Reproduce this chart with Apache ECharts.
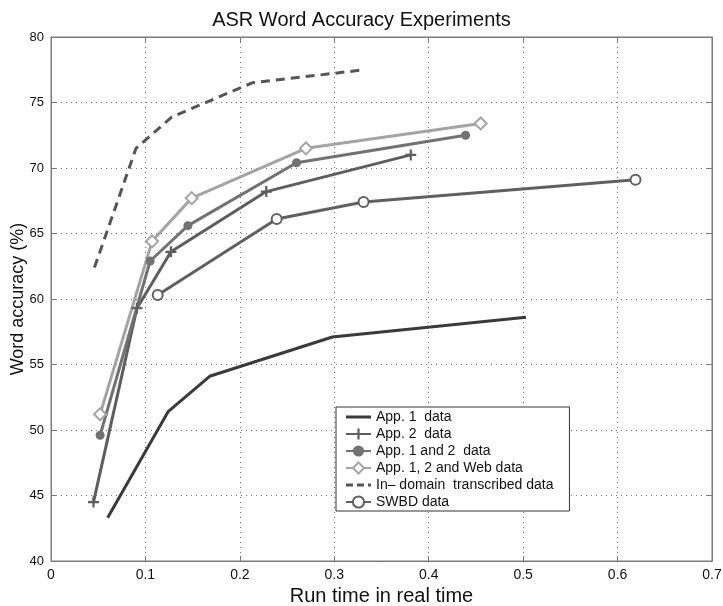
<!DOCTYPE html>
<html><head><meta charset="utf-8">
<script src="https://cdn.jsdelivr.net/npm/echarts@6/dist/echarts.min.js"></script>
<style>html,body{margin:0;padding:0;background:#fff}#c{width:723px;height:606px}</style>
</head><body><div id="c"></div>
<script>
const xTicks = [0, 0.1, 0.2, 0.3, 0.4, 0.5, 0.6, 0.7];
const yTicks = [40, 45, 50, 55, 60, 65, 70, 75, 80];

const app1X = [0.060, 0.124, 0.168, 0.298, 0.503];
const app1Y = [43.3, 51.4, 54.1, 57.1, 58.6];

const app2X = [0.045, 0.091, 0.127, 0.228, 0.381];
const app2Y = [44.5, 59.3, 63.6, 68.2, 71.0];

const app12X = [0.052, 0.105, 0.145, 0.260, 0.439];
const app12Y = [49.6, 62.9, 65.6, 70.4, 72.5];

const webX = [0.052, 0.107, 0.149, 0.270, 0.455];
const webY = [51.2, 64.4, 67.7, 71.5, 73.4];

const inDomX = [0.046, 0.090, 0.128, 0.213, 0.332];
const inDomY = [62.4, 71.5, 73.9, 76.5, 77.5];

const swbdX = [0.113, 0.239, 0.331, 0.619];
const swbdY = [60.3, 66.1, 67.4, 69.1];

const names = ['App. 1  data', 'App. 2  data', 'App. 1 and 2  data', 'App. 1, 2 and Web data', 'In\u2013 domain  transcribed data', 'SWBD data'];

function pairs(xs, ys){ return xs.map((x,i)=>[x, ys[i]]); }

const plusPath = 'path://M4,0h2v4h4v2h-4v4h-2v-4h-4v-2h4z';
const solidIcon = 'path://M0,0h0.01v0.01h-0.01z M0,5.5h25v3h-25z M0,13.99h0.01v0.01h-0.01z';
const dashIcon = 'path://M0,0h0.01v0.01h-0.01z M0,5.5h7v3h-7z M11,5.5h7v3h-7z M22,5.5h3v3h-3z M0,13.99h0.01v0.01h-0.01z';
const font = 'Liberation Sans, Arial, sans-serif';
const fmt = ticks => v => { const t = ticks.find(t => Math.abs(t - v) < 1e-9); return t === undefined ? '' : String(t); };
const frameColor = '#7a7a7a';

const chart = echarts.init(document.getElementById('c'), null, {renderer:'canvas'});
chart.setOption({
  animation: false,
  backgroundColor: '#fff',
  title: {
    text: 'ASR Word Accuracy Experiments',
    left: 'center', top: 5,
    textStyle: {fontFamily: font, fontSize: 20, fontWeight: 'normal', color: '#111'}
  },
  grid: {left: 51, right: 11, top: 37, bottom: 45, outerBoundsMode: 'none', containLabel: false,
    show: true, borderColor: frameColor, borderWidth: 1},
  legend: {
    orient: 'vertical', left: 336, top: 407,
    backgroundColor: '#fff', borderColor: '#333', borderWidth: 1,
    padding: [3, 16, 2, 9], itemGap: 3, itemWidth: 25, itemHeight: 14,
    textStyle: {fontFamily: font, fontSize: 14, color: '#111'},
    data: [
      {name: names[0], icon: solidIcon},
      {name: names[1]},
      {name: names[2]},
      {name: names[3]},
      {name: names[4], icon: dashIcon},
      {name: names[5]}
    ]
  },
  xAxis: [{
    type: 'value', min: 0, max: 0.7, interval: 0.1,
    name: 'Run time in real time', nameLocation: 'middle', nameGap: 25, nameMoveOverlap: false,
    nameTextStyle: {fontFamily: font, fontSize: 20, color: '#111'},
    axisLine: {show: true, onZero: false, lineStyle: {color: frameColor}},
    axisTick: {show: true, inside: true, length: 5, lineStyle: {color: frameColor}},
    axisLabel: {fontFamily: font, fontSize: 14, color: '#111', margin: 7, formatter: fmt(xTicks)},
    splitLine: {show: true, lineStyle: {type: [1, 4], color: '#777', width: 1}}
  }, {
    type: 'value', position: 'top', min: 0, max: 0.7, interval: 0.1,
    axisLine: {show: true, onZero: false, lineStyle: {color: frameColor}},
    axisTick: {show: true, inside: true, length: 5, lineStyle: {color: frameColor}},
    axisLabel: {show: false}, splitLine: {show: false}
  }],
  yAxis: [{
    type: 'value', min: 40, max: 80, interval: 5,
    name: 'Word accuracy (%)', nameLocation: 'middle', nameGap: 24, nameMoveOverlap: false,
    nameTextStyle: {fontFamily: font, fontSize: 18, color: '#111'},
    axisLine: {show: true, onZero: false, lineStyle: {color: frameColor}},
    axisTick: {show: true, inside: true, length: 5, lineStyle: {color: frameColor}},
    axisLabel: {fontFamily: font, fontSize: 13, color: '#111', margin: 7, formatter: fmt(yTicks)},
    splitLine: {show: true, lineStyle: {type: [1, 4], color: '#777', width: 1}}
  }, {
    type: 'value', position: 'right', min: 40, max: 80, interval: 5,
    axisLine: {show: true, onZero: false, lineStyle: {color: frameColor}},
    axisTick: {show: true, inside: true, length: 5, lineStyle: {color: frameColor}},
    axisLabel: {show: false}, splitLine: {show: false}
  }],
  series: [
    {name: names[0], type: 'line', data: pairs(app1X, app1Y), symbol: 'none', showSymbol: false,
      lineStyle: {color: '#3a3a3a', width: 3}, itemStyle: {color: '#3a3a3a'}},
    {name: names[1], type: 'line', data: pairs(app2X, app2Y), symbol: plusPath, symbolSize: 11,
      lineStyle: {color: '#5e5e5e', width: 3}, itemStyle: {color: '#5e5e5e'}},
    {name: names[2], type: 'line', data: pairs(app12X, app12Y), symbol: 'circle', symbolSize: 9,
      lineStyle: {color: '#727272', width: 3}, itemStyle: {color: '#727272'}},
    {name: names[3], type: 'line', data: pairs(webX, webY), symbol: 'emptyDiamond', symbolSize: 12,
      lineStyle: {color: '#a4a4a4', width: 3}, itemStyle: {color: '#a4a4a4', borderWidth: 2}},
    {name: names[4], type: 'line', data: pairs(inDomX, inDomY), symbol: 'none', showSymbol: false,
      lineStyle: {color: '#565656', width: 3, type: [9, 6]}, itemStyle: {color: '#565656'}},
    {name: names[5], type: 'line', data: pairs(swbdX, swbdY), symbol: 'emptyCircle', symbolSize: 10,
      lineStyle: {color: '#606060', width: 3}, itemStyle: {color: '#606060', borderWidth: 2.5}}
  ]
});
</script></body></html>
